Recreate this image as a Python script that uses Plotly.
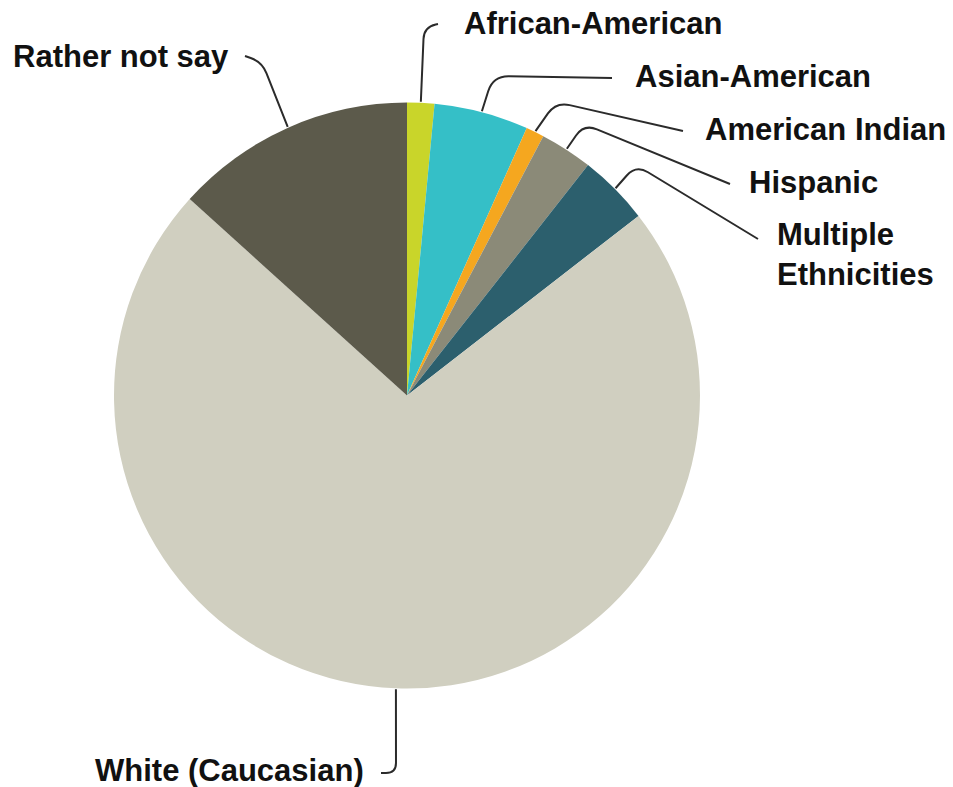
import math
import plotly.graph_objects as go

# ---- data ----
categories = ["African-American", "Asian-American", "American Indian", "Hispanic",
              "Multiple Ethnicities", "White (Caucasian)", "Rather not say"]
display_labels = ["African-American", "Asian-American", "American Indian", "Hispanic",
                  "Multiple<br>Ethnicities", "White (Caucasian)", "Rather not say"]
shares = [1.5, 5.2, 1.0, 2.9, 3.9, 72.2, 13.3]
colors = ["#c9d52a", "#35bfc7", "#f5a71f", "#8b8a78", "#2c5f6d", "#d0cfc0", "#5c5a4b"]

# ---- layout geometry (page pixels) ----
PAGE_W, PAGE_H = 953, 787
OFF = 8  # default page body margin
W, H = PAGE_W - OFF, PAGE_H - OFF
CX, CY, R = 407, 395.5, 293

# label text anchor (page x, y center, x-anchor)
label_pos = {
    "African-American": (462, 23, "left"),
    "Asian-American": (633, 76, "left"),
    "American Indian": (703, 129, "left"),
    "Hispanic": (747, 182, "left"),
    "Multiple Ethnicities": (775, 254, "left"),
    "White (Caucasian)": (366, 770, "right"),
    "Rather not say": (231, 56, "right"),
}
# knee point, end of leader line, corner radius
leader = {
    "African-American": ((424, 27), (438, 24), 12),
    "Asian-American": ((493, 76), (612, 78), 16),
    "American Indian": ((556, 102), (683, 131), 14),
    "Hispanic": ((584, 124), (730, 184), 14),
    "Multiple Ethnicities": ((636, 165), (758, 239), 14),
    "White (Caucasian)": ((396, 773), (381, 773), 10),
    "Rather not say": ((262, 62), (245, 56), 12),
}


def px(x, y):
    return (x - OFF) / W, 1 - (y - OFF) / H


x0, y0 = px(CX - R, CY + R)
x1, y1 = px(CX + R, CY - R)

fig = go.Figure(go.Pie(
    labels=categories,
    values=shares,
    sort=False,
    direction="clockwise",
    rotation=0,
    marker=dict(colors=colors, line=dict(width=0)),
    textinfo="none",
    hoverinfo="label+percent",
    showlegend=False,
    domain=dict(x=[x0, x1], y=[y0, y1]),
))

total = sum(shares)
shapes = []
annotations = []
cum = 0.0
for cat, lab, v in zip(categories, display_labels, shares):
    mid = (cum + v / 2) / total * 2 * math.pi
    cum += v
    ex = CX + (R + 1) * math.sin(mid)
    ey = CY - (R + 1) * math.cos(mid)
    (kx, ky), (lx, ly), rad = leader[cat]
    d1 = math.hypot(kx - ex, ky - ey)
    d2 = math.hypot(lx - kx, ly - ky)
    r1 = min(rad, d1 * 0.9)
    r2 = min(rad, d2 * 0.9)
    ax_, ay_ = kx + (ex - kx) * r1 / d1, ky + (ey - ky) * r1 / d1
    bx_, by_ = kx + (lx - kx) * r2 / d2, ky + (ly - ky) * r2 / d2
    pts = [px(ex, ey), px(ax_, ay_), px(kx, ky), px(bx_, by_), px(lx, ly)]
    path = "M {0[0]},{0[1]} L {1[0]},{1[1]} Q {2[0]},{2[1]} {3[0]},{3[1]} L {4[0]},{4[1]}".format(*pts)
    shapes.append(dict(type="path", xref="paper", yref="paper", path=path,
                       line=dict(color="#2b2b2b", width=2)))
    tx, ty, anchor = label_pos[cat]
    X, Y = px(tx, ty)
    annotations.append(dict(x=X, y=Y, xref="paper", yref="paper", text="<b>%s</b>" % lab,
                            showarrow=False, xanchor=anchor, yanchor="middle", align="left",
                            font=dict(family="Liberation Sans, Arial, sans-serif", size=31,
                                      color="#111111")))

fig.update_layout(
    width=W, height=H,
    margin=dict(l=0, r=0, t=0, b=0),
    paper_bgcolor="white", plot_bgcolor="white",
    shapes=shapes,
    annotations=annotations,
)

fig.write_html("out.html")
